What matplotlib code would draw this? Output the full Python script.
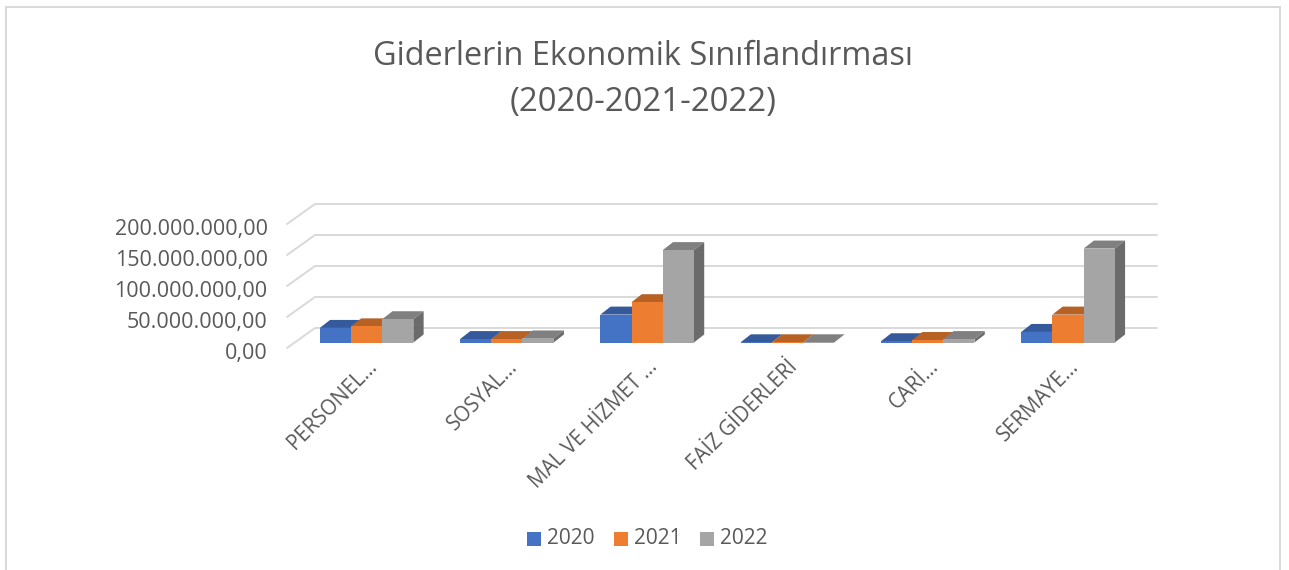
import matplotlib
matplotlib.use("Agg")
import matplotlib.pyplot as plt
from matplotlib.patches import Polygon, Rectangle
from matplotlib.lines import Line2D
from matplotlib.transforms import ScaledTranslation

W, H = 1289, 570

categories = ["PERSONEL...", "SOSYAL...", "MAL VE HİZMET ...", "FAİZ GİDERLERİ", "CARİ...", "SERMAYE..."]
years = ["2020", "2021", "2022"]
values_2020 = [23500000, 5500000, 45000000, 300000, 2000000, 17000000]
values_2021 = [26000000, 5500000, 65000000, 300000, 4000000, 45000000]
values_2022 = [37500000, 6500000, 149000000, 300000, 5500000, 151500000]
y_ticks = [0, 50000000, 100000000, 150000000, 200000000]
y_labels = ["0,00", "50.000.000,00", "100.000.000,00", "150.000.000,00", "200.000.000,00"]

front_colors = ["#4472C4", "#ED7D31", "#A5A5A5"]
top_colors = ["#355A9C", "#B86125", "#808080"]
side_colors = ["#2F5087", "#A05420", "#6B6B6B"]
text_color = "#595959"
grid_color = "#D9D9D9"

plt.rcParams["font.family"] = ["Open Sans", "DejaVu Sans"]

fig = plt.figure(figsize=(W / 100, H / 100), dpi=100)

# axes box: left wall front edge at x=287, value 0 at y=348, value 200M at y=224
ax_left, ax_right, ax_bottom, ax_top = 287, 1129, 348, 224
ax = fig.add_axes([ax_left / W, 1 - ax_bottom / H, (ax_right - ax_left) / W, (ax_bottom - ax_top) / H])
x_lo, x_hi = -0.567, 5.435
ax.set_xlim(x_lo, x_hi)
ax.set_ylim(0, 200000000)
ax.patch.set_alpha(0)
for s in ax.spines.values():
    s.set_visible(False)

px_y = 200000000 / (ax_bottom - ax_top)
unit_x = (x_hi - x_lo) / (ax_right - ax_left)


def shift_x(px):
    return px * unit_x


def shift_y(px):
    return px * px_y


# back wall gridlines with the slanted part on the left wall
for v in y_ticks:
    ax.plot([x_lo, x_lo + shift_x(28), x_hi + shift_x(28)], [v, v + shift_y(20), v + shift_y(20)],
            color=grid_color, lw=1.4, clip_on=False, zorder=1, solid_capstyle="round")

bar_w = 31.2 * unit_x
base = shift_y(5.5)
dx = shift_x(10.3)
dy = shift_y(8)
series = [values_2020, values_2021, values_2022]

for j, vals in enumerate(series):
    for i, v in enumerate(vals):
        x0 = i + (j - 1.5) * bar_w
        x1 = x0 + bar_w
        top = base + v
        ax.add_patch(Polygon([(x0, top), (x1, top), (x1 + dx, top + dy), (x0 + dx, top + dy)],
                             closed=True, fc=top_colors[j], ec="none", zorder=3 + j, clip_on=False))
        ax.add_patch(Polygon([(x1, base), (x1 + dx, base + dy), (x1 + dx, top + dy), (x1, top)],
                             closed=True, fc=side_colors[j], ec="none", zorder=3 + j, clip_on=False))
        ax.bar(x0, v, width=bar_w, bottom=base, align="edge", color=front_colors[j], zorder=3 + j + 0.5, clip_on=False)

ax.set_yticks(y_ticks)
ax.set_yticklabels(y_labels, fontsize=15.5, color=text_color)
ax.tick_params(axis="y", length=0, pad=14)
down = ScaledTranslation(0, -3 / 100, fig.dpi_scale_trans)
for lab in ax.get_yticklabels():
    lab.set_transform(lab.get_transform() + down)

ax.set_xticks(range(len(categories)))
ax.set_xticklabels(categories, rotation=45, ha="right", rotation_mode="anchor", fontsize=14.8, color=text_color)
ax.tick_params(axis="x", length=0, pad=6)

fig.text(643 / W, 1 - 65 / H, "Giderlerin Ekonomik Sınıflandırması", ha="center", va="baseline", fontsize=23.4, color=text_color)
fig.text(643 / W, 1 - 111 / H, "(2020-2021-2022)", ha="center", va="baseline", fontsize=23.8, color=text_color)

# chart frame, open at the bottom
for xs, ys in [([6, 6], [7, 570]), ([6, 1280], [7, 7]), ([1280, 1280], [7, 570])]:
    fig.add_artist(Line2D([x / W for x in xs], [1 - y / H for y in ys], color=grid_color, lw=1.4))

# legend
for x, col, lab in zip([527, 614, 700], front_colors, years):
    fig.add_artist(Rectangle((x / W, 1 - 546 / H), 14 / W, 14 / H, fc=col, ec="none", transform=fig.transFigure))
    fig.text((x + 20) / W, 1 - 539 / H, lab, ha="left", va="center", fontsize=15, color=text_color)

fig.savefig("out.png", dpi=100)
